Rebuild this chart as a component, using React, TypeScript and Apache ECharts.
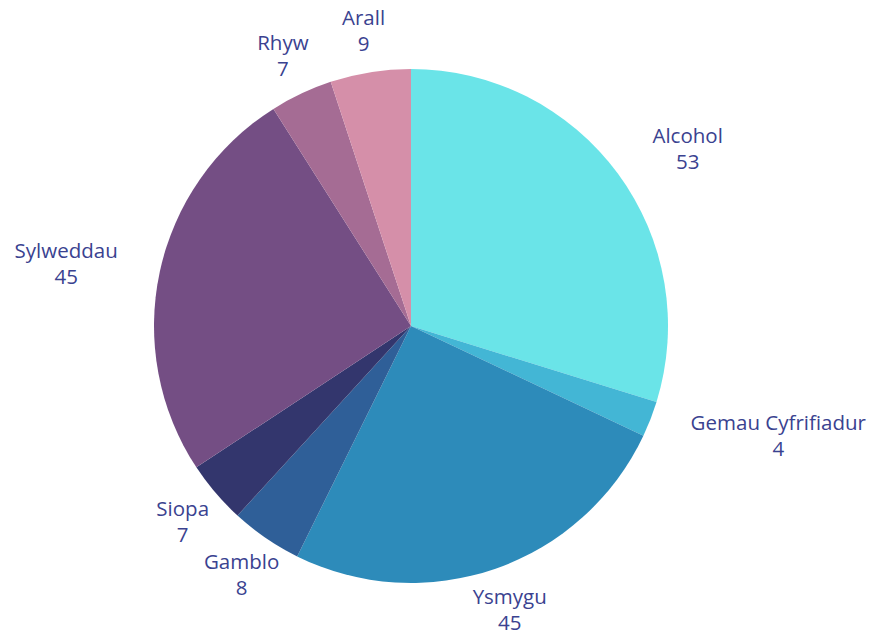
import React, { useEffect, useRef } from "react";
import * as echarts from "echarts";

const categories = ["Alcohol", "Gemau Cyfrifiadur", "Ysmygu", "Gamblo", "Siopa", "Sylweddau", "Rhyw", "Arall"];
const values = [53, 4, 45, 8, 7, 45, 7, 9];
const colors = ["#6ae4e8", "#43b6d5", "#2d8bba", "#2f5f98", "#33366d", "#744e84", "#a56c94", "#d58fa9"];

const CX = 411;
const CY = 326;
const R = 257;
const LABEL_R = 300;

export default function App() {
  const ref = useRef<HTMLDivElement>(null);
  useEffect(() => {
    if (!ref.current) return;
    const chart = echarts.init(ref.current, undefined, { renderer: "svg" });
    const total = values.reduce((a, b) => a + b, 0);
    const starts: number[] = [];
    let acc = 0;
    values.forEach((v) => {
      starts.push(acc);
      acc += v;
    });
    chart.setOption({
      animation: false,
      backgroundColor: "#ffffff",
      series: [
        {
          type: "pie",
          center: [CX, CY],
          radius: R,
          startAngle: 90,
          clockwise: true,
          data: categories.map((c, i) => ({ name: c, value: values[i], itemStyle: { color: colors[i] } })),
          itemStyle: { borderWidth: 0 },
          label: {
            show: true,
            position: "outside",
            formatter: "{b}\n{c}",
            color: "#3a4290",
            fontFamily: "Open Sans",
            fontSize: 20.5,
            lineHeight: 26,
            align: "center",
          },
          labelLine: { show: false },
          labelLayout: (params: any) => {
            const i = params.dataIndex;
            const mid = ((starts[i] + values[i] / 2) / total) * Math.PI * 2;
            const s = Math.sin(mid);
            const c = Math.cos(mid);
            let x = CX + s * LABEL_R;
            const y = CY - c * LABEL_R;
            const w = params.labelRect ? params.labelRect.width : 0;
            if (s > 0.78) x += w / 2;
            else if (s < -0.78) x -= w / 2;
            return { x, y, align: "center", verticalAlign: "middle" };
          },
        },
      ],
    });
    return () => chart.dispose();
  }, []);
  return <div ref={ref} style={{ position: "absolute", left: 0, top: 0, width: 886, height: 631 }} />;
}
